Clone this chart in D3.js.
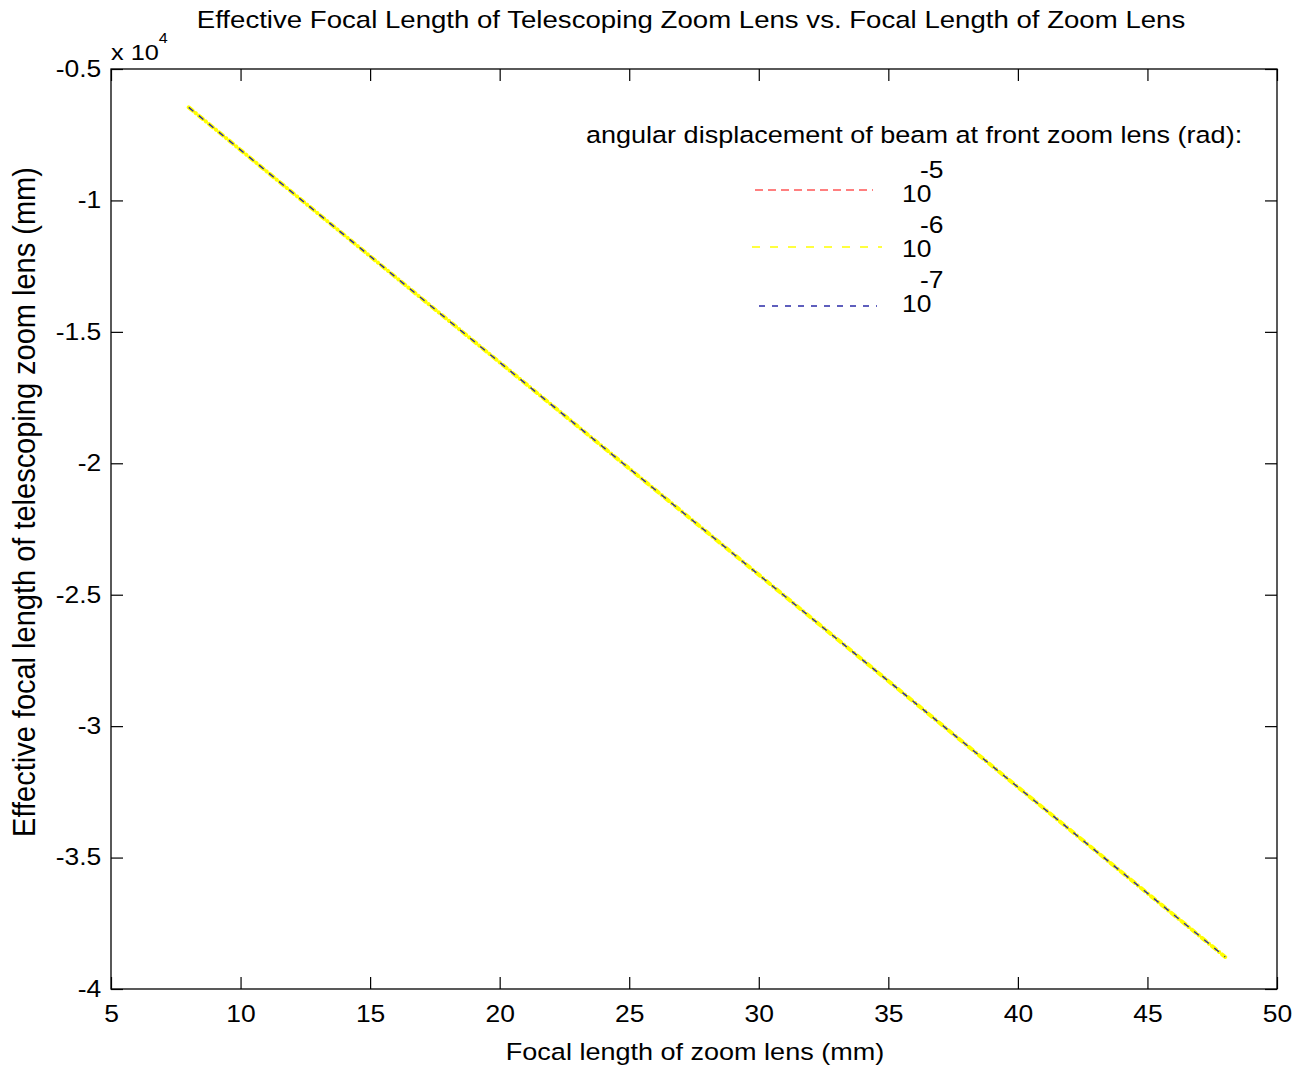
<!DOCTYPE html>
<html>
<head>
<meta charset="utf-8">
<script src="https://cdn.jsdelivr.net/npm/d3@7"></script>
<style>
  body { margin: 0; background: #fff; }
  svg { display: block; }
  text { font-family: "Liberation Sans", Arial, sans-serif; fill: #000; }
</style>
</head>
<body>
<svg id="chart" width="1295" height="1070"></svg>
<script>
// focal length of zoom lens (mm)
const focal = [8, 12, 16, 20, 24, 28, 32, 36, 40, 44, 48];
// effective focal length (mm), one list per angular displacement
const efl5 = [-6460, -9700, -12930, -16160, -19390, -22620, -25860, -29090, -32320, -35550, -38780];
const efl6 = [-6460, -9700, -12930, -16160, -19390, -22620, -25860, -29090, -32320, -35550, -38780];
const efl7 = [-6460, -9700, -12930, -16160, -19390, -22620, -25860, -29090, -32320, -35550, -38780];
const expLabels = ["-5", "-6", "-7"];
const xTicks = [5, 10, 15, 20, 25, 30, 35, 40, 45, 50];
const yTicks = [-5000, -10000, -15000, -20000, -25000, -30000, -35000, -40000];

const series = [
    { name: expLabels[0], values: efl5, color: "#ff0000", dash: "8,5", width: 1.2, cap: "butt" },
    { name: expLabels[1], values: efl6, color: "#ffff00", dash: "5,4,0.1,4", width: 4, cap: "round" },
    { name: expLabels[2], values: efl7, color: "#2a2aa8", dash: "6,7", width: 1.4, cap: "butt" }
];

const svg = d3.select("#chart");
const plotL = 111, plotR = 1277, plotT = 69, plotB = 989;
const sx = 1.15; // the original text is a bit wider than it is tall

const x = d3.scaleLinear().domain([5, 50]).range([plotL, plotR]);
const y = d3.scaleLinear().domain([-40000, -5000]).range([plotB, plotT]);

// box
svg.append("rect")
    .attr("x", plotL).attr("y", plotT)
    .attr("width", plotR - plotL).attr("height", plotB - plotT)
    .attr("fill", "none").attr("stroke", "#000").attr("stroke-width", 1.3);

const tickLen = 12;
const fmtY = d => String(d / 1e4);

// bottom axis with labels, top axis only ticks
svg.append("g").attr("transform", `translate(0,${plotB})`)
    .call(d3.axisBottom(x).tickValues(xTicks).tickSizeInner(-tickLen).tickSizeOuter(0).tickPadding(16.5))
    .call(g => g.select(".domain").remove());
svg.append("g").attr("transform", `translate(0,${plotT})`)
    .call(d3.axisTop(x).tickValues(xTicks).tickSizeInner(-tickLen).tickSizeOuter(0).tickFormat(""))
    .call(g => g.select(".domain").remove());
svg.append("g").attr("transform", `translate(${plotL},0)`)
    .call(d3.axisLeft(y).tickValues(yTicks).tickSizeInner(-tickLen).tickSizeOuter(0).tickPadding(8.5).tickFormat(fmtY))
    .call(g => g.select(".domain").remove());
svg.append("g").attr("transform", `translate(${plotR},0)`)
    .call(d3.axisRight(y).tickValues(yTicks).tickSizeInner(-tickLen).tickSizeOuter(0).tickFormat(""))
    .call(g => g.select(".domain").remove());

svg.selectAll(".tick line").attr("stroke", "#000").attr("stroke-width", 1.2);
svg.selectAll(".tick text")
    .attr("font-size", 23)
    .attr("font-family", "Liberation Sans, Arial, sans-serif")
    .attr("fill", "#000")
    .attr("transform", `scale(${sx},1)`);

// lines
const line = d3.line()
    .x((d, i) => x(focal[i]))
    .y(d => y(d));

svg.selectAll(".series")
    .data(series)
    .enter().append("path")
    .attr("class", "series")
    .attr("d", d => line(d.values))
    .attr("fill", "none")
    .attr("stroke", d => d.color)
    .attr("stroke-width", d => d.width)
    .attr("stroke-linecap", d => d.cap)
    .attr("stroke-dasharray", d => d.dash);

// helper for horizontally stretched text
const label = (px, py, size, anchor, str) => svg.append("text")
    .attr("transform", `translate(${px},${py}) scale(${sx},1)`)
    .attr("text-anchor", anchor)
    .attr("font-size", size)
    .text(str);

// exponent marker
const ex = svg.append("text")
    .attr("transform", `translate(111,60) scale(${sx},1)`)
    .attr("font-size", 22);
ex.append("tspan").text("x 10");
ex.append("tspan").attr("dy", -17).attr("font-size", 14).text("4");

// title and axis labels
label(691, 28, 24, "middle", "Effective Focal Length of Telescoping Zoom Lens vs. Focal Length of Zoom Lens");
label(695, 1060, 23.5, "middle", "Focal length of zoom lens (mm)");

svg.append("text")
    .attr("transform", `translate(35,502) scale(1.08,1) rotate(-90)`)
    .attr("text-anchor", "middle")
    .attr("font-size", 29)
    .text("Effective focal length of telescoping zoom lens (mm)");

// legend
label(586, 143, 23.5, "start", "angular displacement of beam at front zoom lens (rad):");

const legendRows = [
    { x1: 755, x2: 873, ly: 190, ty: 202 },
    { x1: 752, x2: 882, ly: 247, ty: 257 },
    { x1: 759, x2: 877, ly: 306, ty: 312 }
];

const lg = svg.selectAll(".leg")
    .data(series)
    .enter().append("g")
    .attr("class", "leg");

lg.append("line")
    .attr("x1", (d, i) => legendRows[i].x1)
    .attr("x2", (d, i) => legendRows[i].x2)
    .attr("y1", (d, i) => legendRows[i].ly)
    .attr("y2", (d, i) => legendRows[i].ly)
    .attr("stroke", d => d.color)
    .attr("stroke-width", (d, i) => i === 1 ? 1.5 : d.width)
    .attr("stroke-dasharray", (d, i) => i === 1 ? "8,10" : d.dash);

lg.append("text")
    .attr("transform", (d, i) => `translate(902,${legendRows[i].ty}) scale(${sx},1)`)
    .attr("font-size", 23)
    .text("10");

lg.append("text")
    .attr("transform", (d, i) => `translate(920,${legendRows[i].ty - 24}) scale(${sx},1)`)
    .attr("font-size", 23)
    .text(d => d.name);
</script>
</body>
</html>
